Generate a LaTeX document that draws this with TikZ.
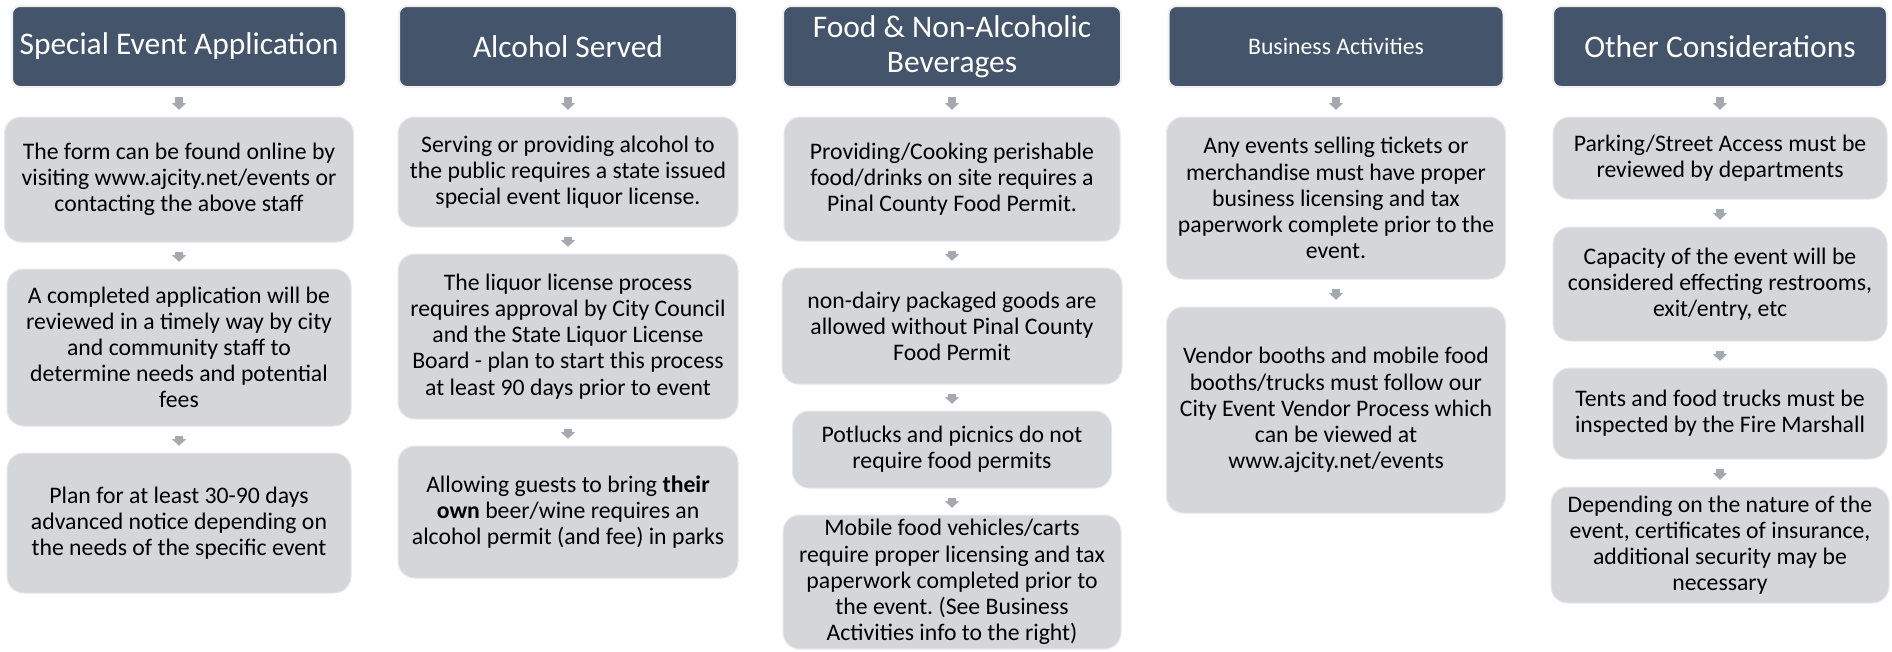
\documentclass[tikz,border=0pt]{standalone}
\usepackage{fontspec}
\setmainfont{Carlito}
\usetikzlibrary{arrows.meta}
\definecolor{headblue}{HTML}{44546A}
\definecolor{boxgray}{HTML}{D5D6DA}
\definecolor{arrowgray}{HTML}{A5A8AE}
\frenchspacing

\begin{document}
\begin{tikzpicture}[x=0.75pt,y=-0.75pt,
	boxsize/.style 2 args={minimum width=#1*0.75pt,minimum height=#2*0.75pt},
	head/.style={fill=headblue,draw=gray!12,line width=1.5pt,rounded corners=6pt,text=white,align=center,inner sep=0pt,font=\fontsize{23.6}{26}\selectfont},
	note/.style={fill=boxgray,draw=boxgray!55!white,line width=0.75pt,rounded corners=12.5pt,align=center,inner sep=0pt,font=\fontsize{17.8}{19.6}\selectfont},
	flow/.style={arrowgray,line width=6pt,-{Triangle[width=10.5pt,length=5pt,line width=0pt]},shorten <=7pt,shorten >=5pt}]
	\useasboundingbox[fill=white] (0,0) rectangle (1892,651);

	\node[head,boxsize={334}{81}] (h1) at (179,46.5) {Special Event Application};
	\node[note,boxsize={349}{125}] (c1a) at (179,179.5) {The form can be found online by\\visiting www.ajcity.net/events or\\contacting the above staff};
	\node[note,boxsize={344}{157}] (c1b) at (179,347.5) {A completed application will be\\reviewed in a timely way by city\\and community staff to\\determine needs and potential\\fees};
	\node[note,boxsize={344}{140}] (c1c) at (179,523) {Plan for at least 30-90 days\\advanced notice depending on\\the needs of the specific event};

	\node[head,boxsize={338}{81}] (h2) at (568,46.5) {Alcohol Served};
	\node[note,boxsize={340}{110}] (c2a) at (568,172) {Serving or providing alcohol to\\the public requires a state issued\\special event liquor license.};
	\node[note,boxsize={340}{165}] (c2b) at (568,336.5) {The liquor license process\\requires approval by City Council\\and the State Liquor License\\Board - plan to start this process\\at least 90 days prior to event};
	\node[note,boxsize={340}{132}] (c2c) at (568,512) {Allowing guests to bring \textbf{their}\\\textbf{own} beer/wine requires an\\alcohol permit (and fee) in parks};

	\node[head,boxsize={338}{81}] (h3) at (952,46.5) {Food \& Non-Alcoholic\\Beverages};
	\node[note,boxsize={336}{124}] (c3a) at (952,179) {Providing/Cooking perishable\\food/drinks on site requires a\\Pinal County Food Permit.};
	\node[note,boxsize={340}{116}] (c3b) at (952,326) {non-dairy packaged goods are\\allowed without Pinal County\\Food Permit};
	\node[note,boxsize={319}{77}] (c3c) at (952,449.5) {Potlucks and picnics do not\\require food permits};
	\node[note,boxsize={338}{134}] (c3d) at (952,582) {Mobile food vehicles/carts\\require proper licensing and tax\\paperwork completed prior to\\the event. (See Business\\Activities info to the right)};

	\node[head,boxsize={335}{81},font=\fontsize{17.8}{19.6}\selectfont] (h4) at (1336,46.5) {Business Activities};
	\node[note,boxsize={339}{162}] (c4a) at (1336,198) {Any events selling tickets or\\merchandise must have proper\\business licensing and tax\\paperwork complete prior to the\\event.};
	\node[note,boxsize={339}{206}] (c4b) at (1336,410) {Vendor booths and mobile food\\booths/trucks must follow our\\City Event Vendor Process which\\can be viewed at\\www.ajcity.net/events};

	\node[head,boxsize={334}{81}] (h5) at (1720,46.5) {Other Considerations};
	\node[note,boxsize={334}{82}] (c5a) at (1720,158) {Parking/Street Access must be\\reviewed by departments};
	\node[note,boxsize={334}{114}] (c5b) at (1720,284) {Capacity of the event will be\\considered effecting restrooms,\\exit/entry, etc};
	\node[note,boxsize={334}{91}] (c5c) at (1720,413.5) {Tents and food trucks must be\\inspected by the Fire Marshall};
	\node[note,boxsize={338}{116}] (c5d) at (1720,545) {Depending on the nature of the\\event, certificates of insurance,\\additional security may be\\necessary};

	\foreach \a/\b in {h1/c1a,c1a/c1b,c1b/c1c,h2/c2a,c2a/c2b,c2b/c2c,h3/c3a,c3a/c3b,c3b/c3c,c3c/c3d,h4/c4a,c4a/c4b,h5/c5a,c5a/c5b,c5b/c5c,c5c/c5d}
		\draw[flow] (\a) -- (\b);
\end{tikzpicture}
\end{document}
